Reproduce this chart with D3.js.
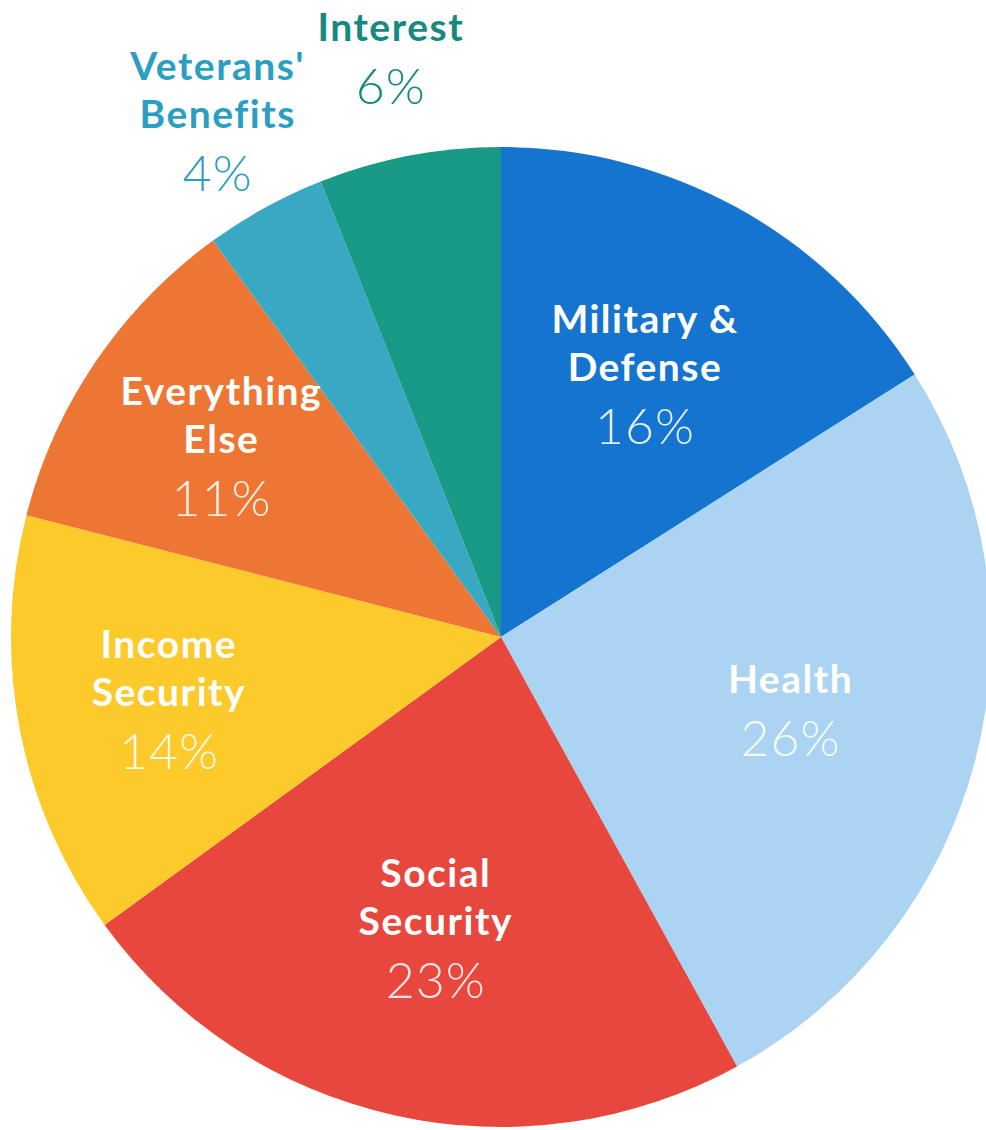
<!DOCTYPE html>
<html lang="en">
<head>
    <title>Federal spending pie</title>
    <meta charset="UTF-8">
    <script src="https://cdn.jsdelivr.net/npm/d3@7"></script>
    <style>
        html, body { margin: 0; padding: 0; background: #fff; }
        svg { display: block; }
        text { font-family: Lato, "Open Sans", sans-serif; }
        .name { font-weight: 700; font-size: 39px; letter-spacing: 1.5px; }
        .pct { font-weight: 300; font-size: 50px; letter-spacing: 1px; }
    </style>
</head>
<body>
<div id="chart"></div>
<script>
    // slices, clockwise from 12 o'clock
    const categories = ["Military & Defense", "Health", "Social Security", "Income Security",
        "Everything Else", "Veterans' Benefits", "Interest"];
    const shares = [16, 26, 23, 14, 11, 4, 6];
    const labelLines = [["Military &", "Defense"], ["Health"], ["Social", "Security"],
        ["Income", "Security"], ["Everything", "Else"], ["Veterans'", "Benefits"], ["Interest"]];
    const palette = ["#1574d0", "#aad4f1", "#e8473d", "#fcca2b", "#ee7634", "#39a8c3", "#189a86"];
    const outsideText = ["#2a9fc1", "#17897f"]; // veterans, interest

    const width = 986, height = 1130;
    const cx = 501, cy = 637, r = 490;

    const svg = d3.select("#chart").append("svg")
        .attr("width", width)
        .attr("height", height);

    const g = svg.append("g").attr("transform", `translate(${cx},${cy})`);

    const data = categories.map((c, i) => ({name: c, value: shares[i], lines: labelLines[i]}));

    const color = d3.scaleOrdinal().domain(categories).range(palette);

    const pie = d3.pie().value(d => d.value).sort(null);
    const arcs = pie(data);

    const arc = d3.arc().innerRadius(0).outerRadius(r);

    g.selectAll("path.slice")
        .data(arcs)
        .join("path")
        .attr("class", "slice")
        .attr("d", arc)
        .attr("fill", d => color(d.data.name));

    // small slices get their label outside the pie
    const isOutside = d => d.data.value < 7;
    const labelRadius = d => isOutside(d) ? r * 1.2 : (d.data.value > 15 ? r * 0.61 : r * 0.69);

    const capH = 27, lineGap = 48, pctGap = 63;

    const labels = g.selectAll("g.label")
        .data(arcs)
        .join("g")
        .attr("class", "label")
        .attr("transform", d => {
            const lr = labelRadius(d);
            const [x, y] = d3.arc().innerRadius(lr).outerRadius(lr).centroid(d);
            const h = capH + lineGap * (d.data.lines.length - 1) + pctGap;
            return `translate(${x},${y - h / 2 + capH})`;
        });

    let outIdx = 0;
    labels.each(function (d) {
        const sel = d3.select(this);
        let fillName = "#fff", fillPct = "rgba(255,255,255,0.88)";
        if (isOutside(d)) {
            fillName = fillPct = outsideText[outIdx++];
        }
        d.data.lines.forEach((t, i) => {
            sel.append("text")
                .attr("class", "name")
                .attr("text-anchor", "middle")
                .attr("y", i * lineGap)
                .attr("fill", fillName)
                .text(t);
        });
        sel.append("text")
            .attr("class", "pct")
            .attr("text-anchor", "middle")
            .attr("y", (d.data.lines.length - 1) * lineGap + pctGap)
            .attr("fill", fillPct)
            .text(d.data.value + "%");
    });
</script>
</body>
</html>
